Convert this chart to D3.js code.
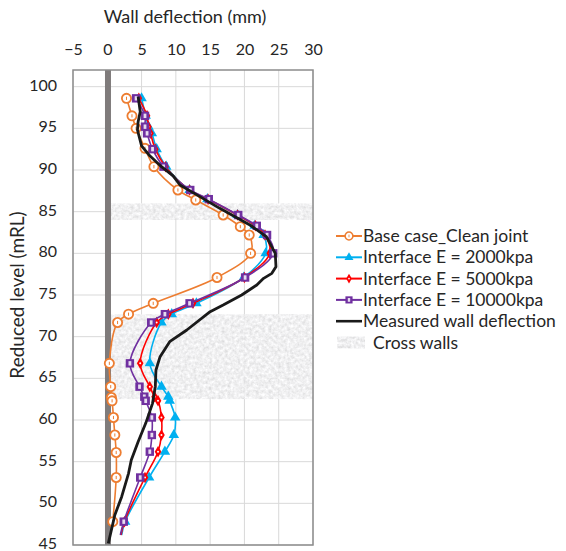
<!DOCTYPE html>
<html>
<head>
<meta charset="utf-8">
<script src="https://cdn.jsdelivr.net/npm/d3@7"></script>
<style>
  body { margin: 0; background: #fff; }
  text { font-family: Lato, "Open Sans", sans-serif; fill: #262626; }
</style>
</head>
<body>
<div id="chart"></div>
<script>
// Wall deflection profiles (mm) against reduced level (mRL)
const baseLevel = [98.6, 96.5, 95.0, 92.6, 90.4, 87.6, 86.4, 84.6, 83.2, 82.2, 80.0, 77.1, 74.0, 72.7, 71.7, 66.8, 64.0, 62.7, 62.3, 60.3, 58.2, 56.1, 53.1, 47.8];
const baseDefl = [2.8, 3.6, 4.2, 5.5, 6.8, 10.3, 12.9, 16.9, 19.4, 20.7, 20.9, 16.0, 6.7, 3.1, 1.5, 0.3, 0.5, 0.6, 0.7, 0.9, 1.1, 1.3, 1.3, 0.8];

// interface cases share the same output levels (last point is the line tail, no marker)
const simLevel = [98.6, 96.5, 95.2, 94.4, 92.5, 90.4, 87.6, 86.5, 84.6, 83.3, 82.2, 80.0, 77.1, 74.0, 72.7, 71.7, 66.8, 64.0, 62.8, 62.3, 60.3, 58.2, 56.2, 53.1, 47.8, 46.2];
const e2000Defl = [5.0, 5.6, 6.0, 6.5, 7.2, 8.6, 12.0, 14.6, 19.0, 21.5, 22.8, 23.1, 19.9, 13.0, 9.4, 7.9, 6.2, 7.9, 8.9, 9.1, 9.9, 9.7, 8.4, 6.1, 2.6, 2.1];
const e5000Defl = [4.6, 5.8, 6.0, 6.3, 7.0, 8.5, 12.0, 14.7, 19.0, 21.6, 23.0, 23.7, 20.0, 12.5, 8.9, 7.2, 4.8, 6.2, 6.9, 7.4, 7.9, 7.9, 7.4, 5.5, 2.5, 2.0];
const e10000Defl = [4.2, 5.5, 5.5, 5.8, 6.6, 8.2, 12.1, 14.8, 19.1, 21.8, 23.3, 24.2, 20.1, 12.0, 8.4, 6.4, 3.3, 4.7, 5.4, 5.6, 6.5, 6.5, 6.2, 4.8, 2.4, 1.9];

const measLevel = [98.8, 97.0, 95.8, 94.8, 92.9, 91.7, 90.4, 89.3, 88.2, 86.8, 85.4, 83.4, 82.0, 80.0, 78.4, 77.6, 77.0, 76.2, 75.0, 73.8, 73.0, 70.8, 69.4, 67.6, 66.0, 64.0, 62.0, 59.6, 57.4, 55.2, 53.6, 50.8, 48.6, 45.2];
const measDefl = [4.5, 4.8, 4.5, 4.4, 5.0, 6.2, 7.9, 9.6, 10.6, 13.5, 16.4, 20.8, 23.2, 24.5, 24.6, 24.0, 22.8, 21.8, 19.6, 16.9, 15.0, 11.6, 9.1, 7.7, 7.1, 7.0, 6.6, 5.6, 4.5, 3.5, 3.1, 2.1, 1.1, 0.15];

// cross wall zones (mRL)
const crossWalls = [[84.0, 86.0], [62.5, 72.7]];

const xTicks = [-5, 0, 5, 10, 15, 20, 25, 30];
const yTicks = [45, 50, 55, 60, 65, 70, 75, 80, 85, 90, 95, 100];

const width = 566, height = 551;
const plot = { left: 73, right: 313, top: 70, bottom: 545 };

const svg = d3.select("#chart").append("svg")
  .attr("width", width)
  .attr("height", height);

const x = d3.scaleLinear().domain([-5, 30]).range([plot.left, plot.right]);
const y = d3.scaleLinear().domain([45, 102]).range([plot.bottom, plot.top]);

// grainy grey fill for the cross walls
const defs = svg.append("defs");
const noise = defs.append("filter").attr("id", "grain")
  .attr("x", 0).attr("y", 0).attr("width", "100%").attr("height", "100%");
noise.append("feTurbulence")
  .attr("type", "fractalNoise").attr("baseFrequency", 0.32).attr("numOctaves", 3).attr("seed", 5)
  .attr("result", "n");
noise.append("feColorMatrix").attr("in", "n").attr("type", "matrix")
  .attr("values", "0.45 0 0 0 0.64  0.45 0 0 0 0.64  0.45 0 0 0 0.65  0 0 0 0 1")
  .attr("result", "g");
noise.append("feComposite").attr("in", "g").attr("in2", "SourceGraphic").attr("operator", "in");

// gridlines
svg.append("g")
  .selectAll("line")
  .data(xTicks)
  .join("line")
  .attr("x1", d => x(d)).attr("x2", d => x(d))
  .attr("y1", plot.top).attr("y2", plot.bottom)
  .attr("stroke", "#d9d9d9").attr("stroke-width", 1);

svg.append("g")
  .selectAll("line")
  .data(yTicks)
  .join("line")
  .attr("x1", plot.left).attr("x2", plot.right)
  .attr("y1", d => y(d)).attr("y2", d => y(d))
  .attr("stroke", "#d9d9d9").attr("stroke-width", 1);

// cross wall bands
svg.append("g")
  .selectAll("rect")
  .data(crossWalls)
  .join("rect")
  .attr("x", x(0))
  .attr("width", x(30) - x(0))
  .attr("y", d => y(d[1]))
  .attr("height", d => y(d[0]) - y(d[1]))
  .attr("fill", "#ddd")
  .attr("opacity", 0.9)
  .attr("filter", "url(#grain)");

// wall line at zero deflection
svg.append("line")
  .attr("x1", x(0) + 0.7).attr("x2", x(0) + 0.7)
  .attr("y1", plot.top).attr("y2", plot.bottom)
  .attr("stroke", "#7f7b7b").attr("stroke-width", 6);

// plot frame
svg.append("rect")
  .attr("x", plot.left).attr("y", plot.top)
  .attr("width", plot.right - plot.left).attr("height", plot.bottom - plot.top)
  .attr("fill", "none").attr("stroke", "#8c8c8c").attr("stroke-width", 1.5);

// axes (top x axis, left y axis), drawn as plain labels
const xAxis = svg.append("g")
  .attr("transform", `translate(0,${plot.top - 15})`)
  .call(d3.axisTop(x).tickValues(xTicks).tickSize(0).tickPadding(0));
xAxis.select(".domain").remove();
xAxis.selectAll("text").style("font-size", "16px").attr("font-family", null).attr("fill", "#262626");

const yAxis = svg.append("g")
  .attr("transform", `translate(${plot.left - 16},-1.5)`)
  .call(d3.axisLeft(y).tickValues(yTicks).tickSize(0).tickPadding(0));
yAxis.select(".domain").remove();
yAxis.selectAll("text").style("font-size", "16px").attr("font-family", null).attr("fill", "#262626");

svg.append("text")
  .attr("x", 185).attr("y", 23)
  .attr("text-anchor", "middle")
  .style("font-size", "18px")
  .text("Wall deflection (mm)");

svg.append("text")
  .attr("transform", "translate(24,295) rotate(-90)")
  .attr("text-anchor", "middle")
  .style("font-size", "19px")
  .text("Reduced level (mRL)");

// series
const series = [
  { name: "Base case_Clean joint", level: baseLevel, defl: baseDefl, color: "#ED7D31", marker: "circle" },
  { name: "Interface E = 2000kpa", level: simLevel, defl: e2000Defl, color: "#00B0F0", marker: "triangle" },
  { name: "Interface E = 5000kpa", level: simLevel, defl: e5000Defl, color: "#FF0000", marker: "diamond" },
  { name: "Interface E = 10000kpa", level: simLevel, defl: e10000Defl, color: "#7030A0", marker: "square" },
  { name: "Measured wall deflection", level: measLevel, defl: measDefl, color: "#1a1a1a", marker: null }
];

const smooth = d3.line().x(d => x(d[0])).y(d => y(d[1])).curve(d3.curveCatmullRom.alpha(0.5));
const rough = d3.line().x(d => x(d[0])).y(d => y(d[1]));

function drawMarker(g, type, color) {
  if (type === "circle") {
    g.append("circle").attr("r", 4.6).attr("fill", "#fff").attr("stroke", color).attr("stroke-width", 1.8);
    g.append("line").attr("x1", 0).attr("x2", 0).attr("y1", -1.6).attr("y2", 1.6)
      .attr("stroke", color).attr("stroke-width", 1);
  } else if (type === "triangle") {
    g.append("path").attr("d", d3.symbol(d3.symbolTriangle, 48)()).attr("fill", color);
  } else if (type === "diamond") {
    g.append("path").attr("d", d3.symbol(d3.symbolDiamond, 38)()).attr("fill", color);
    g.append("circle").attr("r", 1).attr("fill", "#fff");
  } else if (type === "square") {
    g.append("rect").attr("x", -4.2).attr("y", -4.2).attr("width", 8.4).attr("height", 8.4)
      .attr("fill", color);
    g.append("rect").attr("x", -1.4).attr("y", -2.2).attr("width", 2.8).attr("height", 4.4)
      .attr("fill", "#e6dcef");
  }
}

series.forEach(s => {
  const pts = s.defl.map((v, i) => [v, s.level[i]]);
  const g = svg.append("g");
  g.append("path")
    .attr("d", s.marker ? smooth(pts) : rough(pts))
    .attr("fill", "none")
    .attr("stroke", s.color)
    .attr("stroke-width", s.marker ? 1.6 : 2.8)
    .attr("stroke-linejoin", "round");
  if (s.marker) {
    // the lowest simulated level is only a line tail
    const marked = pts.filter(p => p[1] > 47);
    g.selectAll("g")
      .data(marked)
      .join("g")
      .attr("transform", d => `translate(${x(d[0])},${y(d[1])})`)
      .each(function () { drawMarker(d3.select(this), s.marker, s.color); });
  }
});

// legend
const legend = svg.append("g").attr("transform", "translate(336,236)");
const rowH = 21.3;
series.forEach((s, i) => {
  const row = legend.append("g").attr("transform", `translate(0,${i * rowH})`);
  row.append("line").attr("x1", 0).attr("x2", 26).attr("y1", 0).attr("y2", 0)
    .attr("stroke", s.color).attr("stroke-width", s.marker ? 2 : 2.6);
  if (s.marker) {
    const m = row.append("g").attr("transform", "translate(13,0) scale(0.85)");
    drawMarker(m, s.marker, s.color);
  }
  row.append("text").attr("x", 27).attr("y", 0).attr("dy", "0.35em")
    .style("font-size", "17.5px").text(s.name);
});
const cw = legend.append("g").attr("transform", `translate(0,${5 * rowH})`);
cw.append("rect").attr("x", 1).attr("y", -6).attr("width", 28).attr("height", 12)
  .attr("fill", "#ddd").attr("filter", "url(#grain)");
cw.append("text").attr("x", 37).attr("y", 0).attr("dy", "0.35em")
  .style("font-size", "17.5px").text("Cross walls");
</script>
</body>
</html>
